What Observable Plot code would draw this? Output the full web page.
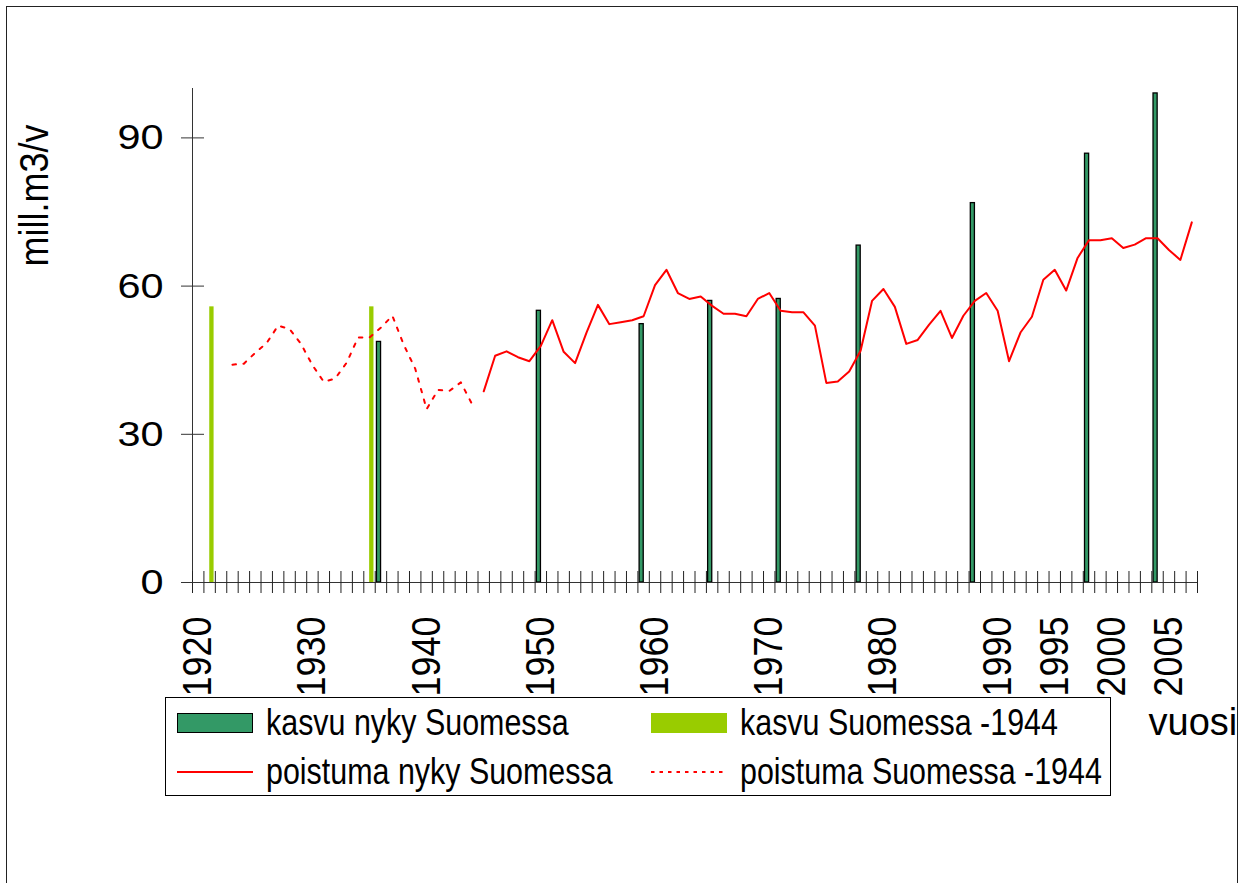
<!DOCTYPE html>
<html>
<head>
<meta charset="utf-8">
<script src="https://cdn.jsdelivr.net/npm/d3@7"></script>
<script src="https://cdn.jsdelivr.net/npm/@observablehq/plot@0.6"></script>
<style>
  html, body { margin: 0; padding: 0; background: #fff; }
  #wrap { position: relative; width: 1246px; height: 883px; overflow: hidden; background: #fff;
          font-family: "Liberation Sans", Arial, Helvetica, sans-serif; }
  #chart { position: absolute; left: 0; top: 0; }
  #frame { position: absolute; left: 6px; top: 6px; width: 1232px; height: 920px;
           border: 1.5px solid #222; box-sizing: border-box; pointer-events: none; }
  #legend { position: absolute; left: 165px; top: 697px; width: 946px; height: 99px;
            border: 1px solid #000; box-sizing: border-box; background: #fff; }
  .sw { position: absolute; box-sizing: border-box; }
  .lt { position: absolute; height: 36px; line-height: 36px; font-size: 36px; white-space: nowrap;
        color: #000; transform: scaleX(0.845); transform-origin: 0 50%; }
</style>
</head>
<body>
<div id="wrap">
  <div id="chart"></div>
  <div id="legend"></div>
  <div id="frame"></div>
</div>
<script>
// ---- data ----
const labelYears = [1920, 1930, 1940, 1950, 1960, 1970, 1980, 1990, 1995, 2000, 2005];
const yTickValues = [0, 30, 60, 90];
const firstYear = 1920, lastYear = 2007;   // category axis: one category per year

const kasvuNykyYears  = [1936, 1950, 1959, 1965, 1971, 1978, 1988, 1998, 2004];
const kasvuNykyValues = [48.7, 55.0, 52.3, 57.0, 57.4, 68.2, 76.8, 86.8, 99.0];

const kasvuVanhaYears  = [1921, 1935];
const kasvuVanhaValues = [55.8, 55.8];

const poistumaVanhaYears = d3.range(1923, 1945);
const poistumaVanhaValues = [44.1, 44.3, 46.5, 48.5, 52.0, 51.3, 48.3, 44.0, 40.6, 41.3,
                             44.5, 49.6, 49.6, 51.6, 54.0, 48.1, 43.3, 35.1, 39.0, 38.8,
                             40.5, 36.0];

const poistumaNykyYears = d3.range(1945, 2008);
const poistumaNykyValues = [38.7, 45.9, 46.8, 45.6, 44.8, 47.9, 53.1, 46.7, 44.4, 50.6,
                            56.2, 52.3, 52.7, 53.1, 53.9, 60.2, 63.3, 58.6, 57.4, 57.9,
                            56.0, 54.4, 54.4, 53.9, 57.4, 58.6, 55.0, 54.7, 54.7, 52.0,
                            40.4, 40.7, 42.7, 46.9, 57.0, 59.4, 55.8, 48.3, 49.1, 52.2,
                            55.0, 49.5, 54.0, 57.0, 58.6, 55.0, 44.8, 50.6, 53.8, 61.3,
                            63.3, 59.1, 65.7, 69.3, 69.3, 69.7, 67.7, 68.4, 69.7, 69.7,
                            67.3, 65.3, 72.9];

const seriesNames = ["kasvu nyky Suomessa", "kasvu Suomessa -1944",
                     "poistuma nyky Suomessa", "poistuma Suomessa -1944"];
const colors = { nyky: "#339966", vanha: "#99CC00", poistuma: "#FF0000" };
const yTitle = "mill.m3/v";
const xTitle = "vuosi";

// ---- tables ----
const zip = (ys, vs) => ys.map((year, i) => ({ year, value: vs[i] }));
const kasvuNyky = zip(kasvuNykyYears, kasvuNykyValues);
const kasvuVanha = zip(kasvuVanhaYears, kasvuVanhaValues);
const poistumaVanha = zip(poistumaVanhaYears, poistumaVanhaValues);
const poistumaNyky = zip(poistumaNykyYears, poistumaNykyValues);
const xDomain = [firstYear - 0.5, lastYear + 0.5];
const boundaries = d3.range(firstYear, lastYear + 2).map(y => y - 0.5);

// clustered-bar slots inside a year category
const slotNyky = 0.33 - 0.5, slotVanha = 0.70 - 0.5;

const chart = Plot.plot({
  width: 1246, height: 883,
  marginLeft: 192, marginRight: 49, marginTop: 88, marginBottom: 301,
  x: { domain: xDomain, axis: null },
  y: { domain: [0, 100], axis: null },
  style: { fontFamily: "'Liberation Sans', Arial, sans-serif", background: "transparent", color: "#000" },
  marks: [
    Plot.rect(kasvuVanha, { x1: d => d.year + slotVanha - 0.19, x2: d => d.year + slotVanha + 0.19,
                            y1: () => 0, y2: "value", fill: colors.vanha }),
    Plot.rect(kasvuNyky, { x1: d => d.year + slotNyky - 0.18, x2: d => d.year + slotNyky + 0.18,
                           y1: () => 0, y2: "value", fill: colors.nyky, stroke: "#000", strokeWidth: 1.3 }),
    Plot.line(poistumaVanha, { x: "year", y: "value", stroke: colors.poistuma, strokeWidth: 2,
                               strokeDasharray: "3.5,7.5" }),
    Plot.line(poistumaNyky, { x: "year", y: "value", stroke: colors.poistuma, strokeWidth: 2 }),
    // axes
    Plot.ruleX([xDomain[0]], { x: d => d, y1: () => 0, y2: () => 100, stroke: "#333", strokeWidth: 1 }),
    Plot.ruleY([0], { y: d => d, x1: () => xDomain[0], x2: () => xDomain[1], stroke: "#333", strokeWidth: 1 }),
    Plot.ruleX(boundaries, { x: d => d, y1: () => 0, y2: () => 0, insetTop: -11, insetBottom: -11,
                             stroke: "#222", strokeWidth: 1 }),
    Plot.ruleY(yTickValues, { y: d => d, x1: () => xDomain[0], x2: () => xDomain[0],
                              insetLeft: -11, insetRight: -12, stroke: "#333", strokeWidth: 1 }),
    Plot.text(yTickValues, { x: () => xDomain[0], y: d => d, text: d => String(d), textAnchor: "end",
                             lineAnchor: "middle", dx: -29, fontSize: 36, fill: "#000" }),
    Plot.text(labelYears, { x: d => d, y: () => 0, text: d => String(d), rotate: -90, textAnchor: "end",
                            lineAnchor: "middle", dy: 34, fontSize: 36, fill: "#000" }),
    Plot.text([yTitle], { frameAnchor: "top-left", text: d => d, rotate: -90, textAnchor: "middle",
                          lineAnchor: "middle", dx: -157, dy: 107, fontSize: 36, fill: "#000" }),
    Plot.text([xTitle], { frameAnchor: "bottom-right", text: d => d, textAnchor: "start",
                          lineAnchor: "middle", dx: -49, dy: 140, fontSize: 38, fill: "#000" })
  ]
});
document.getElementById("chart").appendChild(chart);

// the reference's lettering is drawn slightly wide (horizontally stretched)
chart.querySelectorAll("text").forEach(t => {
  if (t.textContent === xTitle) return;
  const tr = t.getAttribute("transform") || "";
  const rotated = /rotate\(-90\)/.test(tr);
  const s = rotated ? "scale(1,1.12)" : "scale(1.15,1)";
  t.setAttribute("transform", `${tr} ${s}`);
});

// ---- legend ----
const legend = document.getElementById("legend");
const items = [
  { name: seriesNames[0], kind: "bar", fill: colors.nyky, border: true, left: 11, cy: 25 },
  { name: seriesNames[1], kind: "bar", fill: colors.vanha, border: false, left: 485, cy: 25 },
  { name: seriesNames[2], kind: "line", dash: null, left: 11, cy: 74 },
  { name: seriesNames[3], kind: "line", dash: "3.5,5", left: 485, cy: 74 }
];
items.forEach(it => {
  if (it.kind === "bar") {
    const sw = document.createElement("div");
    sw.className = "sw";
    Object.assign(sw.style, { left: it.left + "px", top: (it.cy - 10) + "px", width: "76px", height: "20px",
      background: it.fill, border: it.border ? "1.5px solid #000" : "none" });
    legend.appendChild(sw);
  } else {
    const svg = d3.create("svg").attr("width", 76).attr("height", 6)
      .style("position", "absolute").style("left", it.left + "px").style("top", (it.cy - 3) + "px");
    svg.append("line").attr("x1", 0).attr("x2", 76).attr("y1", 3).attr("y2", 3)
      .attr("stroke", colors.poistuma).attr("stroke-width", 2)
      .attr("stroke-dasharray", it.dash);
    legend.appendChild(svg.node());
  }
  const tx = document.createElement("div");
  tx.className = "lt";
  tx.textContent = it.name;
  tx.style.left = (it.left + 89) + "px";
  tx.style.top = (it.cy - 18) + "px";
  legend.appendChild(tx);
});
</script>
</body>
</html>
